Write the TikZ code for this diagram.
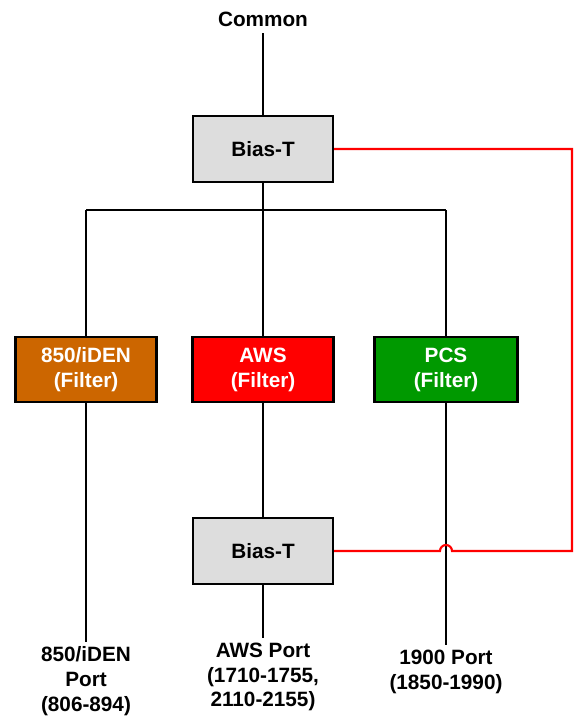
\documentclass[tikz,border=0pt]{standalone}
\usepackage{fontspec}
\setmainfont{Liberation Sans}
\usepackage{tikz}
\usepackage{xcolor}
\usetikzlibrary{positioning}

\definecolor{biasgray}{HTML}{DDDDDD}
\definecolor{band850}{HTML}{CC6600}
\definecolor{bandaws}{HTML}{FF0000}
\definecolor{bandpcs}{HTML}{009900}

\begin{document}
\begin{tikzpicture}[x=0.02cm, y=-0.02cm, line width=1.2pt,
        every node/.style={font=\fontsize{11.8}{14.2}\selectfont\bfseries, align=center},
        biasbox/.style={draw, fill=biasgray, minimum width=2.8cm, minimum height=1.32cm},
        filterbox/.style={draw, text=white, minimum width=2.82cm, minimum height=1.3cm},
        portlabel/.style={anchor=north, inner sep=2pt}]
                    \useasboundingbox (0, 0) rectangle (576, 721);

                    \node (common) at (263, 19) {Common};
                    \node[biasbox] (biastop) at (263, 149) {Bias-T};
                    \node[filterbox, fill=band850] (f850) at (86, 369.5) {850/iDEN\\(Filter)};
                    \node[filterbox, fill=bandaws] (faws) at (263, 369.5) {AWS\\(Filter)};
                    \node[filterbox, fill=bandpcs, minimum width=2.86cm] (fpcs) at (446, 369.5) {PCS\\(Filter)};
                    \node[biasbox] (biasbot) at (263, 551) {Bias-T};
                    \node[portlabel] (p850) at (86, 642) {850/iDEN\\Port\\(806-894)};
                    \node[portlabel] (paws) at (263, 638) {AWS Port\\(1710-1755,\\2110-2155)};
                    \node[portlabel] (p1900) at (446, 645) {1900 Port\\(1850-1990)};

                    \coordinate (busl) at (86, 210);
                    \coordinate (busm) at (263, 210);
                    \coordinate (busr) at (446, 210);
                    \coordinate (rtop) at (572, 149);
                    \coordinate (rbot) at (572, 551);
                    \coordinate (hop) at (452, 551);

                    \draw (common) -- (biastop);
                    \draw (biastop) -- (busm);
                    \draw (busl) -- (busr);
                    \draw (busl) -- (f850);
                    \draw (busm) -- (faws);
                    \draw (busr) -- (fpcs);
                    \draw (f850) -- (p850);
                    \draw (faws) -- (biasbot);
                    \draw (biasbot) -- (paws);
                    \draw (fpcs) -- (p1900);

                    \draw[red] (biastop.east) -- (rtop) -- (rbot) -- (hop) arc (0:-180:6) -- (biasbot.east);
                \end{tikzpicture}
\end{document}
